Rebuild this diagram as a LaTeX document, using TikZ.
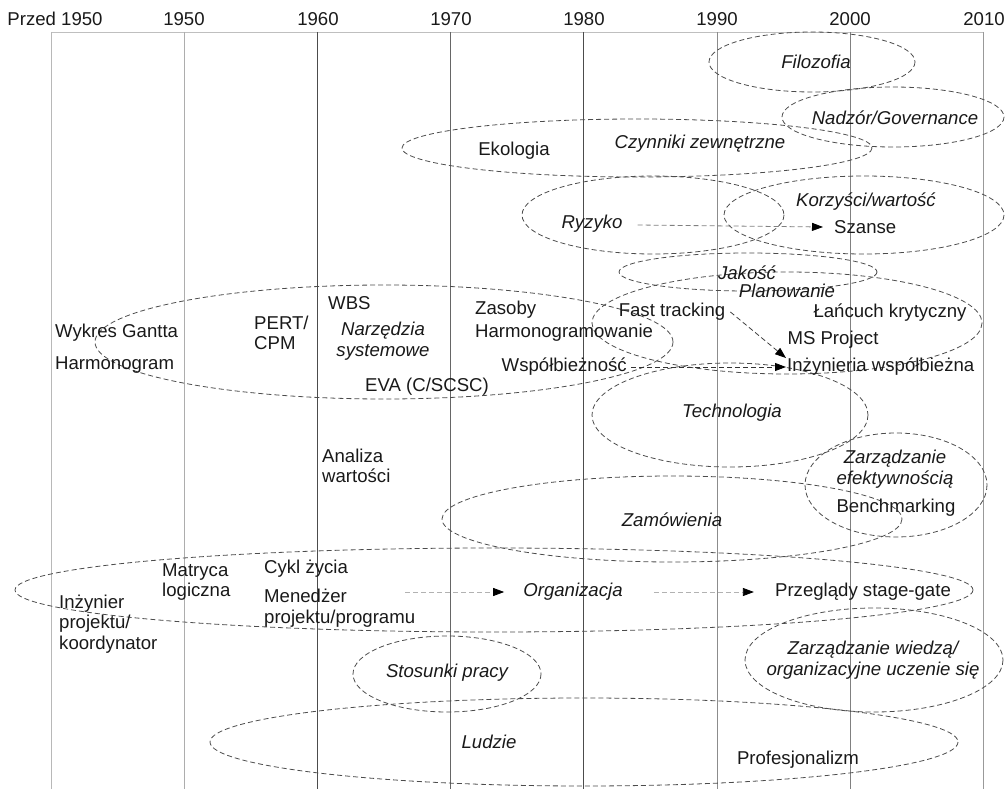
\documentclass[tikz,border=0pt]{standalone}
\usepackage{fontspec}
\setmainfont{Liberation Sans}
\usetikzlibrary{arrows.meta, positioning}

\begin{document}
\begin{tikzpicture}[x=1pt, y=-1pt,
    lbl/.style={font=\fontsize{18.6}{20.5}\selectfont, text=black!90, inner sep=1pt},
    ital/.style={lbl, font=\fontsize{18.6}{20.5}\selectfont\itshape},
    grp/.style={draw=black!70, line width=0.8pt, dash pattern=on 5pt off 3pt},
    fleche/.style={line width=0.8pt, dash pattern=on 5pt off 3pt, -{Triangle[length=11pt,width=8pt,color=black]}}]
    \useasboundingbox (0,0) rectangle (1005,789);

    % Axe des annees
    \draw[black!25, line width=0.9pt] (51,32) -- (983,32);
    \foreach \x/\c in {51/black!28, 184/black!32, 317/black!70, 450/black!60,
                       583/black!70, 717/black!45, 850/black!50, 983/black!40}
        \draw[\c, line width=0.9pt] (\x,32) -- (\x,789);
    \foreach \x/\an in {55/Przed 1950, 184/1950, 318/1960, 451/1970,
                        584/1980, 717/1990, 850/2000, 984/2010}
        \node[lbl] at (\x,19) {\an};

    % Ellipses des domaines
    \draw[grp] (812,62) ellipse [x radius=103, y radius=30];
    \draw[grp] (893,117) ellipse [x radius=111, y radius=30];
    \draw[grp] (637,148) ellipse [x radius=235, y radius=29];
    \draw[grp] (653,215) ellipse [x radius=131, y radius=39];
    \draw[grp] (864,215) ellipse [x radius=140, y radius=39];
    \draw[grp] (748,272) ellipse [x radius=129, y radius=19];
    \draw[grp] (787,323) ellipse [x radius=195, y radius=51];
    \draw[grp] (384,342) ellipse [x radius=289, y radius=57];
    \draw[grp] (730,415) ellipse [x radius=138, y radius=52];
    \draw[grp] (896,485) ellipse [x radius=91, y radius=52];
    \draw[grp] (672,519) ellipse [x radius=230, y radius=43];
    \draw[grp] (494,590) ellipse [x radius=479, y radius=42];
    \draw[grp] (447,674) ellipse [x radius=94, y radius=38];
    \draw[grp] (874,660) ellipse [x radius=129, y radius=52];
    \draw[grp] (584,742) ellipse [x radius=374, y radius=44];

    % Etiquettes du haut
    \node[ital] (filozofia) at (816,62) {Filozofia};
    \node[ital] (nadzor) at (895,118) {Nadzór/Governance};
    \node[lbl] (ekologia) at (514,151) {Ekologia};
    \node[ital] (czynniki) at (700,144) {Czynniki zewnętrzne};
    \node[ital] (ryzyko) at (592,224) {Ryzyko};
    \node[ital] (korzysci) at (866,202) {Korzyści/wartość};
    \node[lbl, anchor=west] (szanse) at (833,227) {Szanse};
    \node[ital] (jakosc) at (747,273) {Jakość};

    % Planowanie et outils
    \node[ital] (planowanie) at (787,291) {Planowanie};
    \node[lbl] (fast) at (672,312) {Fast tracking};
    \node[lbl] (lancuch) at (890,313) {Łańcuch krytyczny};
    \node[lbl] (msproject) at (833,340) {MS Project};
    \node[lbl, anchor=west] (inzynieria) at (786,367) {Inżynieria współbieżna};
    \node[lbl, anchor=east] (wspolb) at (628,367) {Współbieżność};
    \node[lbl, anchor=west] (zasoby) at (474,310) {Zasoby};
    \node[lbl, anchor=west] (harmonogramowanie) at (474,333) {Harmonogramowanie};
    \node[lbl, anchor=west] (gantt) at (54,333) {Wykres Gantta};
    \node[lbl, anchor=west] (harmonogram) at (54,365) {Harmonogram};
    \node[lbl, anchor=west, align=left] (pert) at (253,333) {PERT/\\CPM};
    \node[lbl, anchor=west] (wbs) at (327,303) {WBS};
    \node[ital, align=center] (narzedzia) at (383,341) {Narzędzia\\systemowe};
    \node[lbl] (eva) at (427,387) {EVA (C/SCSC)};

    % Milieu
    \node[ital] (technologia) at (732,413) {Technologia};
    \node[lbl, anchor=west, align=left] (analiza) at (321,466) {Analiza\\wartości};
    \node[ital, align=center] (efektywnosc) at (895,469) {Zarządzanie\\efektywnością};
    \node[lbl] (benchmarking) at (896,508) {Benchmarking};
    \node[ital] (zamowienia) at (672,520) {Zamówienia};

    % Organisation
    \node[lbl, anchor=west, align=left] (matryca) at (161,582) {Matryca\\logiczna};
    \node[lbl, anchor=west] (cykl) at (263,569) {Cykl życia};
    \node[lbl, anchor=west, align=left] (menedzer) at (263,608) {Menedżer\\projektu/programu};
    \node[lbl, anchor=west, align=left] (inzynier) at (58,624) {Inżynier\\projektu/\\koordynator};
    \node[ital] (organizacja) at (573,592) {Organizacja};
    \node[lbl] (przeglady) at (863,592) {Przeglądy stage-gate};
    \coordinate (depart) at (405,592);

    % Bas
    \node[ital] (stosunki) at (447,673) {Stosunki pracy};
    \node[ital, align=center] (wiedza) at (873,660) {Zarządzanie wiedzą/\\organizacyjne uczenie się};
    \node[ital] (ludzie) at (489,742) {Ludzie};
    \node[lbl] (profesjonalizm) at (798,760) {Profesjonalizm};

    % Fleches
    \draw[fleche, black!50] (ryzyko.east) ++(14,1) -- ([xshift=-10pt]szanse.west);
    \draw[fleche, black!75] ([xshift=4pt]fast.east) -- ([yshift=-1pt]inzynieria.north west);
    \draw[fleche, black!80] ([xshift=3pt]wspolb.east) -- (inzynieria.west);
    \draw[fleche, black!30] (depart) -- ([xshift=-18pt]organizacja.west);
    \draw[fleche, black!30] ([xshift=30pt]organizacja.east) -- ([xshift=-20pt]przeglady.west);
\end{tikzpicture}
\end{document}
